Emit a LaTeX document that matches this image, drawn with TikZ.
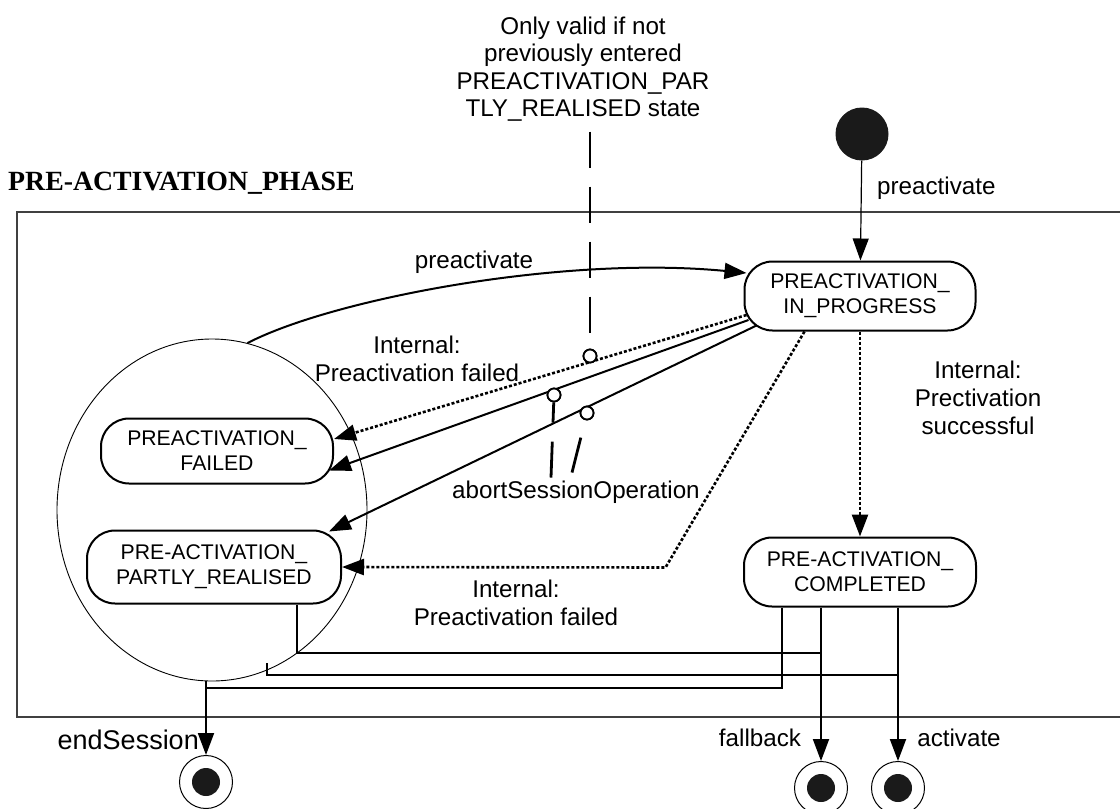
\documentclass[tikz,border=0pt]{standalone}
\usepackage{fontspec}
\setmainfont{Liberation Sans}
\newfontfamily\titleserif{Liberation Serif}
\usetikzlibrary{arrows.meta,shapes.geometric,calc}
\definecolor{ink}{HTML}{1A1A1A}
\definecolor{framegray}{HTML}{404040}
\begin{document}
\begin{tikzpicture}[x=1pt,y=-1pt,
  state/.style={draw, line width=2pt, rounded corners=28pt, align=center, inner sep=0pt, font=\fontsize{21.2}{25}\selectfont},
  lbl/.style={align=center, inner sep=0pt, font=\fontsize{24.2}{28}\selectfont},
  tip/.style={-{Triangle[length=22pt,width=16pt]}},
  trans/.style={line width=2pt, tip},
  wire/.style={line width=2pt},
  dots/.style={line width=2.6pt, dash pattern=on 3pt off 2pt},
  notelink/.style={line width=2.8pt, dash pattern=on 36pt off 19pt},
  ring/.style={circle, draw, line width=1.8pt, fill=white, minimum size=13pt, inner sep=0pt},
  final/.style={circle, draw, line width=1pt, minimum size=53pt, inner sep=0pt,
    path picture={\fill[ink] (path picture bounding box.center) circle (14pt);}},
]
\useasboundingbox (0,0) rectangle (1120,809);

% frame and title
\draw[line width=1.2pt, framegray] (1120,212) -- (17,212) -- (17,717) -- (1120,717);
\node[anchor=base west, inner sep=0pt, font=\titleserif\bfseries\fontsize{27.8}{30}\selectfont] (title) at (8,190) {PRE-ACTIVATION\_PHASE};

% composite ellipse
\node[ellipse, draw, line width=0.9pt, minimum width=310pt, minimum height=342pt, inner sep=0pt] (comp) at (212,510) {};

% states
\node[circle, fill=ink, minimum size=53pt, inner sep=0pt] (init) at (862,134) {};
\node[state, minimum width=231pt, minimum height=69pt] (prog) at (860,296) {PREACTIVATION\_\\IN\_PROGRESS};
\node[state, minimum width=232pt, minimum height=65pt] (failed) at (217,451) {PREACTIVATION\_\\FAILED};
\node[state, minimum width=254pt, minimum height=73pt] (partly) at (214,567) {PRE-ACTIVATION\_\\PARTLY\_REALISED};
\node[state, minimum width=232pt, minimum height=69pt] (completed) at (860,572) {PRE-ACTIVATION\_\\COMPLETED};
\node[final] (es) at (206,782) {};
\node[final] (fb) at (821,788) {};
\node[final] (act) at (898,788) {};

% helper coordinates for merge lines
\coordinate (yfb) at (0,653);
\coordinate (yact) at (0,675);
\coordinate (yes) at (0,688);

% transitions
\draw[line width=1.2pt, tip] (init) -- (prog);
\draw[trans] (comp.78) .. controls (330,300) and (560,255) .. ($(prog.west)+(3,-23)$);
\draw[dots, tip] ($(prog.west)+(3,19)$) -- ($(failed.east)+(0,-12)$);
\draw[trans] ($(prog.west)+(5,24)$) -- ($(failed.south east)+(-5,-14)$);
\draw[trans] ($(prog.south west)+(13,-6)$) -- ($(partly.north east)+(-13,2)$);
\draw[dots, tip] ($(prog.south west)+(61,0)$) -- ++(-139,236) -- (partly.east);
\draw[dots, tip] (prog) -- (completed);

\draw[trans] (fb |- completed.south) -- (fb);
\draw[trans] (act |- completed.south) -- (act);
\draw[trans] (comp.south -| es) -- (es);
\draw[wire] ($(completed.south west)+(39,0)$) |- (es |- yes);
\draw[wire] ($(partly.south west)+(211,0)$) |- (fb |- yfb);
\draw[wire] ($(comp.center)+(55,153)$) |- (act |- yact);

% labels
\node[lbl, anchor=west] (lpre1) at (877,188) {preactivate};
\node[lbl] (lpre2) at (474,262) {preactivate};
\node[lbl] (lfail1) at (417,359) {Internal:\\Preactivation failed};
\node[lbl] (lsucc) at (978,398) {Internal:\\Prectivation\\successful};
\node[lbl] (lfail2) at (516,603) {Internal:\\Preactivation failed};
\node[lbl, anchor=east, font=\fontsize{27}{30}\selectfont] (les) at (199,740) {endSession};
\node[lbl] (lfb) at (760,738) {fallback};
\node[lbl] (lact) at (959,738) {activate};

% notes
\node[lbl, font=\fontsize{24.2}{27.5}\selectfont] (note) at (583,69) {Only valid if not\\previously entered\\PREACTIVATION\_PAR\\TLY\_REALISED state};
\node[lbl, anchor=west] (abort) at (452,492) {abortSessionOperation};
\node[ring] (r1) at (590,356) {};
\node[ring] (r2) at (554,395) {};
\node[ring] (r3) at (587,413) {};
\draw[notelink] ($(note.south -| r1)+(0,10)$) -- (r1);
\draw[notelink] ($(abort.north west)+(99,-3)$) -- (r2);
\draw[notelink] ($(abort.north west)+(120,-8)$) -- (r3);
\node[ring] at (r1) {};
\node[ring] at (r2) {};
\node[ring] at (r3) {};
\end{tikzpicture}
\end{document}
